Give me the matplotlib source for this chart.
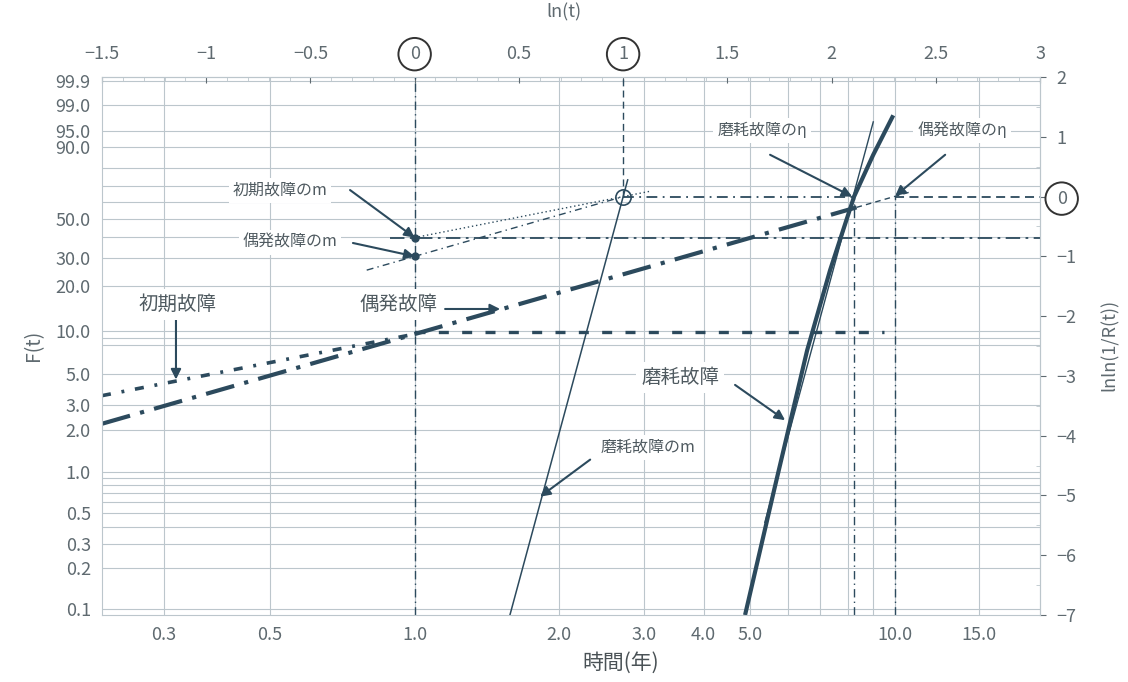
import numpy as np
import matplotlib.pyplot as plt
from matplotlib.ticker import FixedLocator, MultipleLocator

plt.rcParams['font.family'] = ['Noto Sans CJK JP', 'DejaVu Sans']

# chart coordinates: x = ln(t), y = lnln(1/R(t))
lnt_ticks = [-1.5, -1, -0.5, 0, 0.5, 1, 1.5, 2, 2.5, 3]
lnt_labels = ['−1.5', '−1', '−0.5', '0', '0.5', '1', '1.5', '2', '2.5', '3']
lnln_ticks = [-7, -6, -5, -4, -3, -2, -1, 0, 1, 2]
lnln_labels = ['−7', '−6', '−5', '−4', '−3', '−2', '−1', '0', '1', '2']
t_ticks = [0.3, 0.5, 1.0, 2.0, 3.0, 4.0, 5.0, 10.0, 15.0]
t_grid = [0.3, 0.5, 1, 2, 3, 4, 5, 6, 7, 8, 9, 10, 15]
F_ticks = [99.9, 99.0, 95.0, 90.0, 50.0, 30.0, 20.0, 10.0, 5.0, 3.0, 2.0,
           1.0, 0.5, 0.3, 0.2, 0.1]
F_grid = [99.9, 99, 95, 90, 80, 70, 60, 50, 40, 30, 20, 10, 9, 8, 5, 3, 2,
          1, 0.9, 0.8, 0.7, 0.6, 0.5, 0.4, 0.3, 0.2, 0.1]

# failure lines
early_x = [-1.5, 0.0]
early_y = [-3.33, -2.30]
early_flat_x = [0.0, 2.25]
early_flat_y = [-2.27, -2.27]
random_x = [-1.5, 2.12]
random_y = [-3.80, -0.18]
random_tail_x = [2.12, 2.38]
random_tail_y = [-0.18, 0.08]
wear_x = [1.585, 1.725, 1.883, 1.993, 2.108, 2.200, 2.296]
wear_y = [-7.0, -4.9, -2.57, -1.23, 0.0, 0.70, 1.36]
wear_fit_x = [1.68, 2.20]
wear_fit_y = [-5.45, 1.25]

# slope (m) reference lines
early_m_x = [0.0, 1.13]
early_m_y = [-0.686, 0.09]
random_m_x = [-0.23, 1.0]
random_m_y = [-1.23, 0.0]
wear_m_x = [0.457, 1.022]
wear_m_y = [-7.0, 0.28]

eta_wear = 2.108
eta_random = 2.303


def wb(F):
    return np.log(-np.log(1 - np.asarray(F) / 100.0))


lc = '#2c4a5d'
tc = '#5f6a70'
gc = '#bcc6cc'

fig = plt.figure(figsize=(11.28, 6.82), dpi=100)
ax = fig.add_axes([0.0904, 0.0982, 0.8316, 0.7888])
ax.set_xlim(-1.5, 3)
ax.set_ylim(-7, 2)

for v in np.log(t_grid):
    ax.axvline(v, color=gc, lw=0.8, zorder=0)
for v in wb(F_grid):
    ax.axhline(v, color=gc, lw=0.8, zorder=0)

# guide lines
ax.plot([0, 0], [-7, 2], color=lc, lw=1.0, dashes=[6, 3, 1, 3])
ax.plot([1, 1], [0, 2], color=lc, lw=1.0, dashes=[5, 3])
ax.plot([eta_wear, eta_wear], [-7, 0], color=lc, lw=1.0, dashes=[6, 3, 1, 3])
ax.plot([eta_random, eta_random], [-7, 0], color=lc, lw=1.0, dashes=[6, 3, 1, 3])
ax.plot([1, eta_wear], [0, 0], color=lc, lw=1.3, dashes=[6, 3, 1, 3])
ax.plot([eta_random, 3], [0, 0], color=lc, lw=1.3, dashes=[5, 3])
ax.plot([-0.12, 3], [-0.686, -0.686], color=lc, lw=1.3, dashes=[8, 3, 1.5, 3])

# failure lines
ax.plot(early_x, early_y, color=lc, lw=2.6, dashes=[2.5, 3, 0.8, 3])
ax.plot(early_flat_x, early_flat_y, color=lc, lw=2.4, dashes=[3, 4])
ax.plot(random_x, random_y, color=lc, lw=3.0, dashes=[7, 2.5, 1, 2.5])
ax.plot(random_tail_x, random_tail_y, color=lc, lw=1.0, dashes=[4, 3])
ax.plot(wear_x, wear_y, color=lc, lw=3.0, solid_capstyle='butt')
ax.plot(wear_fit_x, wear_fit_y, color=lc, lw=1.0)

ax.plot(early_m_x, early_m_y, color=lc, lw=1.0, dashes=[1, 2])
ax.plot(random_m_x, random_m_y, color=lc, lw=1.0, dashes=[5, 3, 1, 3])
ax.plot(wear_m_x, wear_m_y, color=lc, lw=1.1)

ax.plot([1], [0], 'o', mfc='none', mec=lc, ms=11, mew=1.2)
ax.plot([0, 0], [-0.686, -1.0], 'o', color=lc, ms=5)

# axes, ticks
ax.xaxis.set_major_locator(FixedLocator(np.log(t_ticks)))
ax.set_xticklabels([f'{t:.1f}' for t in t_ticks])
ax.yaxis.set_major_locator(FixedLocator(wb(F_ticks)))
ax.set_yticklabels([f'{F:.1f}' for F in F_ticks])
ax.tick_params(length=0, labelsize=13, colors=tc, pad=8)
for s in ax.spines.values():
    s.set_color(gc)

top = ax.secondary_xaxis('top')
top.xaxis.set_major_locator(FixedLocator(lnt_ticks))
top.set_xticklabels(lnt_labels)
top.xaxis.set_minor_locator(MultipleLocator(0.1))
top.tick_params(which='major', direction='in', length=4, labelsize=13, colors=tc, pad=10)
top.tick_params(which='minor', direction='in', length=3, color=gc)
top.spines['top'].set_color(gc)

right = ax.secondary_yaxis('right')
right.yaxis.set_major_locator(FixedLocator(lnln_ticks))
right.set_yticklabels(lnln_labels)
right.yaxis.set_minor_locator(MultipleLocator(0.5))
right.tick_params(which='major', direction='out', length=4, labelsize=13, colors=tc, pad=8)
right.tick_params(which='minor', direction='in', length=3, color=gc)
right.spines['right'].set_color(gc)

circ = dict(boxstyle='circle,pad=0.4', fc='white', ec='#333333', lw=1.4)
for lab in top.get_xticklabels():
    if lab.get_text() in ('0', '1'):
        lab.set_bbox(circ)
for lab in right.get_yticklabels():
    if lab.get_text() == '0':
        lab.set_bbox(circ)

fig.text(0.5, 0.982, 'ln(t)', ha='center', va='center', fontsize=13, color=tc)
fig.text(0.030, 0.494, 'F(t)', ha='center', va='center', fontsize=14, color=tc, rotation=90)
fig.text(0.55, 0.028, '時間(年)', ha='center', va='center', fontsize=15, color='#4a5256')
fig.text(0.984, 0.494, 'lnln(1/R(t))', ha='center', va='center', fontsize=13, color=tc, rotation=90)

# annotations
arrow = dict(arrowstyle='-|>', color=lc, lw=1.5, mutation_scale=15, shrinkA=0, shrinkB=0)
wbox = dict(boxstyle='square,pad=0.25', fc='white', ec='none')
notes = [
    ('初期故障のm', (-0.646, 0.11), (-0.31, 0.11), (0.0, -0.686), 11.5),
    ('偶発故障のm', (-0.598, -0.76), (-0.296, -0.776), (0.0, -1.0), 11.5),
    ('初期故障', (-1.14, -1.81), (-1.145, -2.06), (-1.145, -3.06), 14),
    ('偶発故障', (-0.08, -1.81), (0.146, -1.88), (0.41, -1.88), 14),
    ('磨耗故障', (1.274, -3.03), (1.537, -3.15), (1.777, -3.74), 14),
    ('磨耗故障のm', (1.12, -4.19), (0.842, -4.40), (0.602, -5.02), 11.5),
    ('磨耗故障のη', (1.667, 1.11), (1.705, 0.70), (2.099, 0.0), 11.5),
    ('偶発故障のη', (2.627, 1.11), (2.545, 0.70), (2.305, 0.01), 11.5),
]
for txt, tpos, a0, a1, fs in notes:
    ax.annotate('', xy=a1, xytext=a0, arrowprops=arrow, zorder=5)
    ax.text(tpos[0], tpos[1], txt, ha='center', va='center', fontsize=fs,
            color='#4f5a60', bbox=wbox, zorder=6)

fig.savefig('out.png', dpi=100)
